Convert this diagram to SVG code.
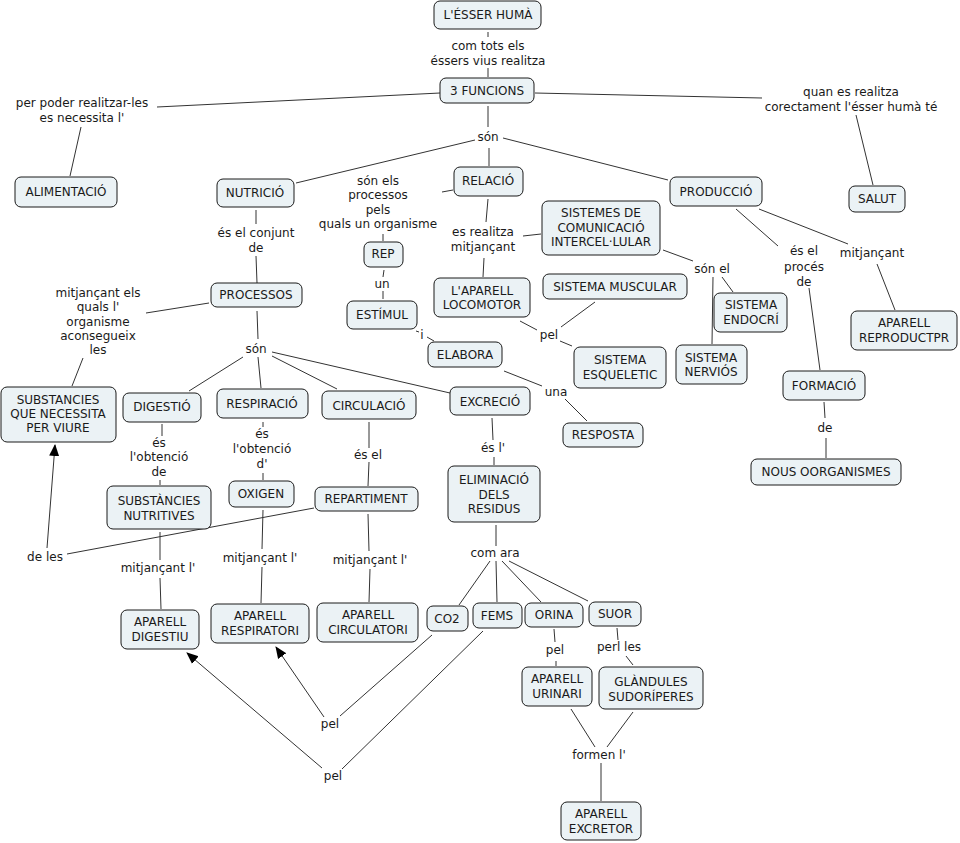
<svg xmlns="http://www.w3.org/2000/svg" width="960" height="843" viewBox="0 0 960 843">
<style>
text{font-family:"DejaVu Sans",Verdana,sans-serif;font-size:12px;fill:#1a1a1a;text-anchor:middle}
.n rect{fill:#ebf2f5;stroke:#1a1a1a;stroke-width:1}
#connectors line{stroke:#333;stroke-width:1;fill:none}
</style>
<defs>
<marker id="ah" markerUnits="userSpaceOnUse" markerWidth="12" markerHeight="12" viewBox="0 0 12 12" refX="11" refY="6" orient="auto">
<path d="M0,1 L12,6 L0,11 Z" fill="#000"/>
</marker>
</defs>
<rect width="960" height="843" fill="#fff"/>
<g id="connectors">
<line x1="488" y1="32" x2="488" y2="37"/>
<line x1="488" y1="68" x2="488" y2="77"/>
<line x1="440" y1="93" x2="157" y2="107"/>
<line x1="81" y1="127" x2="70" y2="176"/>
<line x1="535" y1="93" x2="762" y2="98"/>
<line x1="856" y1="115" x2="873" y2="185"/>
<line x1="488" y1="106" x2="488" y2="127"/>
<line x1="475" y1="140" x2="296" y2="183"/>
<line x1="503" y1="138" x2="668" y2="180"/>
<line x1="489" y1="148" x2="489" y2="166"/>
<line x1="256" y1="210" x2="256" y2="224"/>
<line x1="256" y1="256" x2="257" y2="283"/>
<line x1="453" y1="190" x2="442" y2="192"/>
<line x1="383" y1="234" x2="383" y2="241"/>
<line x1="384" y1="270" x2="383" y2="277"/>
<line x1="383" y1="291" x2="383" y2="299"/>
<line x1="416" y1="331" x2="419" y2="332"/>
<line x1="427" y1="337" x2="434" y2="341"/>
<line x1="488" y1="199" x2="486" y2="222"/>
<line x1="484" y1="258" x2="483" y2="277"/>
<line x1="523" y1="236" x2="541" y2="234"/>
<line x1="520" y1="321" x2="537" y2="330"/>
<line x1="561" y1="327" x2="595" y2="302"/>
<line x1="560" y1="341" x2="572" y2="346"/>
<line x1="663" y1="250" x2="693" y2="261"/>
<line x1="713" y1="277" x2="712" y2="344"/>
<line x1="722" y1="277" x2="733" y2="292"/>
<line x1="736" y1="209" x2="778" y2="246"/>
<line x1="809" y1="288" x2="820" y2="370"/>
<line x1="759" y1="209" x2="848" y2="244"/>
<line x1="877" y1="264" x2="895" y2="310"/>
<line x1="824" y1="402" x2="825" y2="418"/>
<line x1="826" y1="438" x2="826" y2="458"/>
<line x1="209" y1="303" x2="146" y2="313"/>
<line x1="83" y1="358" x2="72" y2="386"/>
<line x1="257" y1="311" x2="258" y2="339"/>
<line x1="243" y1="357" x2="189" y2="391"/>
<line x1="258" y1="357" x2="261" y2="388"/>
<line x1="272" y1="356" x2="337" y2="389"/>
<line x1="272" y1="352" x2="450" y2="393"/>
<line x1="504" y1="371" x2="542" y2="386"/>
<line x1="565" y1="399" x2="587" y2="421"/>
<line x1="162" y1="424" x2="162" y2="436"/>
<line x1="160" y1="480" x2="160" y2="485"/>
<line x1="263" y1="422" x2="263" y2="427"/>
<line x1="263" y1="473" x2="263" y2="480"/>
<line x1="369" y1="422" x2="369" y2="448"/>
<line x1="369" y1="462" x2="368" y2="486"/>
<line x1="492" y1="418" x2="493" y2="440"/>
<line x1="494" y1="457" x2="494" y2="465"/>
<line x1="314" y1="508" x2="67" y2="554"/>
<line x1="47" y1="548" x2="55" y2="445" marker-end="url(#ah)"/>
<line x1="160" y1="532" x2="160" y2="560"/>
<line x1="160" y1="578" x2="161" y2="609"/>
<line x1="263" y1="510" x2="262" y2="549"/>
<line x1="262" y1="567" x2="261" y2="603"/>
<line x1="368" y1="514" x2="369" y2="551"/>
<line x1="370" y1="569" x2="369" y2="602"/>
<line x1="496" y1="525" x2="496" y2="546"/>
<line x1="490" y1="561" x2="459" y2="605"/>
<line x1="496" y1="561" x2="497" y2="602"/>
<line x1="502" y1="561" x2="541" y2="602"/>
<line x1="509" y1="561" x2="588" y2="601"/>
<line x1="554" y1="629" x2="555" y2="642"/>
<line x1="556" y1="661" x2="556" y2="666"/>
<line x1="617" y1="628" x2="618" y2="640"/>
<line x1="626" y1="656" x2="633" y2="665"/>
<line x1="571" y1="709" x2="595" y2="747"/>
<line x1="633" y1="712" x2="607" y2="747"/>
<line x1="601" y1="763" x2="601" y2="801"/>
<line x1="432" y1="635" x2="340" y2="716"/>
<line x1="324" y1="717" x2="276" y2="647" marker-end="url(#ah)"/>
<line x1="483" y1="631" x2="342" y2="769"/>
<line x1="322" y1="768" x2="187" y2="653" marker-end="url(#ah)"/>
</g>
<g id="labels">
<text x="488" y="50">com tots els</text>
<text x="488" y="65">éssers vius realitza</text>
<text x="82" y="107">per poder realitzar-les</text>
<text x="82" y="122">es necessita l'</text>
<text x="851" y="96">quan es realitza</text>
<text x="851" y="111">corectament l'ésser humà té</text>
<text x="488" y="141">són</text>
<text x="378" y="185">són els</text>
<text x="378" y="199">processos</text>
<text x="378" y="214">pels</text>
<text x="378" y="228">quals un organisme</text>
<text x="256" y="237">és el conjunt</text>
<text x="256" y="252">de</text>
<text x="483" y="236">es realitza</text>
<text x="483" y="251">mitjançant</text>
<text x="712" y="273">són el</text>
<text x="804" y="255">és el</text>
<text x="804" y="271">procés</text>
<text x="804" y="286">de</text>
<text x="872" y="257">mitjançant</text>
<text x="382" y="288">un</text>
<text x="422" y="339">i</text>
<text x="549" y="339">pel</text>
<text x="556" y="396">una</text>
<text x="98" y="297">mitjançant els</text>
<text x="98" y="311">quals l'</text>
<text x="98" y="326">organisme</text>
<text x="98" y="340">aconsegueix</text>
<text x="98" y="354">les</text>
<text x="256" y="353">són</text>
<text x="159" y="447">és</text>
<text x="159" y="461">l'obtenció</text>
<text x="159" y="476">de</text>
<text x="262" y="438">és</text>
<text x="262" y="453">l'obtenció</text>
<text x="262" y="468">d'</text>
<text x="368" y="459">és el</text>
<text x="493" y="452">és l'</text>
<text x="825" y="432">de</text>
<text x="45" y="561">de les</text>
<text x="495" y="557">com ara</text>
<text x="158" y="572">mitjançant l'</text>
<text x="260" y="562">mitjançant l'</text>
<text x="370" y="564">mitjançant l'</text>
<text x="555" y="654">pel</text>
<text x="619" y="651">perl les</text>
<text x="599" y="759">formen l'</text>
<text x="330" y="728">pel</text>
<text x="333" y="780">pel</text>
</g>
<g id="n_esser" class="n"><rect x="434" y="1" width="107" height="28" rx="6"/><text x="488" y="19">L'ÉSSER HUMÀ</text></g>
<g id="n_3funcions" class="n"><rect x="440" y="78" width="94" height="25" rx="6"/><text x="487" y="95">3 FUNCIONS</text></g>
<g id="n_alimentacio" class="n"><rect x="15" y="177" width="102" height="30" rx="6"/><text x="66" y="196">ALIMENTACIÓ</text></g>
<g id="n_salut" class="n"><rect x="849" y="186" width="56" height="26" rx="6"/><text x="877" y="203">SALUT</text></g>
<g id="n_nutricio" class="n"><rect x="217" y="179" width="77" height="28" rx="6"/><text x="255" y="197">NUTRICIÓ</text></g>
<g id="n_relacio" class="n"><rect x="454" y="167" width="69" height="29" rx="6"/><text x="488" y="185">RELACIÓ</text></g>
<g id="n_produccio" class="n"><rect x="670" y="177" width="92" height="29" rx="6"/><text x="716" y="196">PRODUCCIÓ</text></g>
<g id="n_sistemes" class="n"><rect x="542" y="201" width="118" height="54" rx="6"/><text x="601" y="217">SISTEMES DE</text><text x="601" y="232">COMUNICACIÓ</text><text x="601" y="246">INTERCEL·LULAR</text></g>
<g id="n_rep" class="n"><rect x="364" y="242" width="39" height="25" rx="6"/><text x="383" y="258">REP</text></g>
<g id="n_estimul" class="n"><rect x="347" y="301" width="70" height="28" rx="6"/><text x="382" y="319">ESTÍMUL</text></g>
<g id="n_elabora" class="n"><rect x="428" y="342" width="74" height="25" rx="6"/><text x="465" y="359">ELABORA</text></g>
<g id="n_locomotor" class="n"><rect x="434" y="278" width="96" height="39" rx="6"/><text x="482" y="295">L'APARELL</text><text x="482" y="309">LOCOMOTOR</text></g>
<g id="n_muscular" class="n"><rect x="543" y="274" width="144" height="25" rx="6"/><text x="615" y="291">SISTEMA MUSCULAR</text></g>
<g id="n_esqueletic" class="n"><rect x="574" y="347" width="92" height="41" rx="6"/><text x="620" y="364">SISTEMA</text><text x="620" y="379">ESQUELETIC</text></g>
<g id="n_nervios" class="n"><rect x="676" y="345" width="71" height="39" rx="6"/><text x="711" y="362">SISTEMA</text><text x="711" y="376">NERVIÓS</text></g>
<g id="n_endocri" class="n"><rect x="714" y="293" width="73" height="39" rx="6"/><text x="751" y="309">SISTEMA</text><text x="751" y="324">ENDOCRÍ</text></g>
<g id="n_reproductor" class="n"><rect x="851" y="311" width="106" height="39" rx="6"/><text x="904" y="327">APARELL</text><text x="904" y="342">REPRODUCTPR</text></g>
<g id="n_formacio" class="n"><rect x="783" y="371" width="82" height="29" rx="6"/><text x="824" y="390">FORMACIÓ</text></g>
<g id="n_nous" class="n"><rect x="751" y="459" width="150" height="26" rx="6"/><text x="826" y="476">NOUS OORGANISMES</text></g>
<g id="n_processos" class="n"><rect x="211" y="283" width="91" height="24" rx="6"/><text x="256" y="299">PROCESSOS</text></g>
<g id="n_substancies" class="n"><rect x="1" y="387" width="115" height="55" rx="6"/><text x="58" y="404">SUBSTANCIES</text><text x="58" y="418">QUE NECESSITA</text><text x="58" y="432">PER VIURE</text></g>
<g id="n_digestio" class="n"><rect x="123" y="393" width="78" height="29" rx="6"/><text x="162" y="411">DIGESTIÓ</text></g>
<g id="n_respiracio" class="n"><rect x="217" y="389" width="91" height="29" rx="6"/><text x="262" y="408">RESPIRACIÓ</text></g>
<g id="n_circulacio" class="n"><rect x="322" y="391" width="94" height="28" rx="6"/><text x="369" y="410">CIRCULACIÓ</text></g>
<g id="n_excrecio" class="n"><rect x="450" y="387" width="80" height="28" rx="6"/><text x="490" y="406">EXCRECIÓ</text></g>
<g id="n_resposta" class="n"><rect x="563" y="423" width="80" height="24" rx="6"/><text x="603" y="439">RESPOSTA</text></g>
<g id="n_eliminacio" class="n"><rect x="448" y="466" width="92" height="56" rx="6"/><text x="494" y="484">ELIMINACIÓ</text><text x="494" y="499">DELS</text><text x="494" y="513">RESIDUS</text></g>
<g id="n_nutritives" class="n"><rect x="107" y="486" width="104" height="43" rx="6"/><text x="159" y="505">SUBSTÀNCIES</text><text x="159" y="520">NUTRITIVES</text></g>
<g id="n_oxigen" class="n"><rect x="229" y="481" width="65" height="26" rx="6"/><text x="261" y="498">OXIGEN</text></g>
<g id="n_repartiment" class="n"><rect x="315" y="487" width="103" height="24" rx="6"/><text x="366" y="503">REPARTIMENT</text></g>
<g id="n_apdigestiu" class="n"><rect x="121" y="610" width="78" height="39" rx="6"/><text x="160" y="626">APARELL</text><text x="160" y="641">DIGESTIU</text></g>
<g id="n_aprespiratori" class="n"><rect x="211" y="604" width="98" height="39" rx="6"/><text x="260" y="620">APARELL</text><text x="260" y="635">RESPIRATORI</text></g>
<g id="n_apcirculatori" class="n"><rect x="317" y="603" width="101" height="39" rx="6"/><text x="368" y="619">APARELL</text><text x="368" y="634">CIRCULATORI</text></g>
<g id="n_co2" class="n"><rect x="427" y="606" width="41" height="25" rx="6"/><text x="447" y="623">CO2</text></g>
<g id="n_fems" class="n"><rect x="473" y="603" width="49" height="25" rx="6"/><text x="497" y="620">FEMS</text></g>
<g id="n_orina" class="n"><rect x="525" y="603" width="58" height="24" rx="6"/><text x="554" y="619">ORINA</text></g>
<g id="n_suor" class="n"><rect x="589" y="602" width="52" height="24" rx="6"/><text x="615" y="618">SUOR</text></g>
<g id="n_apurinari" class="n"><rect x="522" y="667" width="70" height="39" rx="6"/><text x="557" y="683">APARELL</text><text x="557" y="698">URINARI</text></g>
<g id="n_glandules" class="n"><rect x="599" y="667" width="104" height="42" rx="6"/><text x="651" y="686">GLÀNDULES</text><text x="651" y="701">SUDORÍPERES</text></g>
<g id="n_apexcretor" class="n"><rect x="561" y="802" width="80" height="38" rx="6"/><text x="601" y="818">APARELL</text><text x="601" y="833">EXCRETOR</text></g>
</svg>
